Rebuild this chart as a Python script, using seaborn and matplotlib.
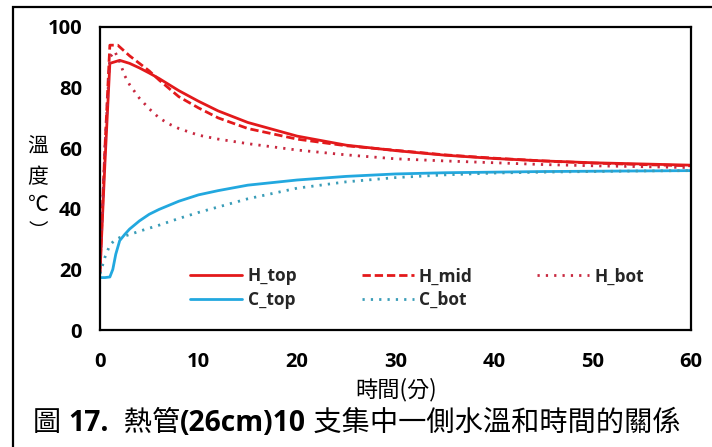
import matplotlib
matplotlib.use("Agg")
import matplotlib.pyplot as plt
import seaborn as sns
from matplotlib.lines import Line2D
from matplotlib.patches import Rectangle

# time (min) and temperatures
t_h_top = [0, 0.5, 1, 2, 3, 4, 5, 6, 8, 10, 12, 15, 20, 25, 30, 35, 40, 45, 50, 55, 60]
h_top = [19, 55, 88, 89, 88, 86.5, 84.8, 83, 79, 75.5, 72.3, 68.5, 64, 61, 59.2, 57.7, 56.6, 55.8, 55.2, 54.8, 54.4]

t_h_mid = [0, 0.5, 1, 1.8, 3, 4, 5, 6, 8, 10, 12, 15, 20, 25, 30, 35, 40, 45, 50, 55, 60]
h_mid = [20, 60, 94, 94, 90.5, 88, 85.5, 82.5, 77, 73.3, 70, 66.5, 63, 60.8, 59.3, 57.8, 56.7, 55.8, 55.1, 54.6, 54.2]

t_h_bot = [0, 0.5, 1, 1.5, 2, 2.5, 3, 4, 5, 6, 7, 8, 10, 12, 15, 20, 25, 30, 35, 40, 45, 50, 55, 60]
h_bot = [19, 60, 90, 92, 88.5, 84, 81, 76.5, 73, 70, 68, 66.5, 64.3, 63, 61.5, 59.4, 57.8, 56.5, 55.8, 55.2, 54.6, 54.2, 53.9, 53.6]

t_c_top = [0, 0.5, 1, 1.3, 1.6, 2, 2.5, 3, 4, 5, 6, 8, 10, 12, 15, 20, 25, 30, 35, 40, 45, 50, 55, 60]
c_top = [17.3, 17.3, 17.5, 20, 25, 29.5, 31.5, 33.3, 36, 38.2, 39.8, 42.5, 44.6, 46, 47.8, 49.5, 50.7, 51.5, 51.9, 52.1, 52.3, 52.4, 52.5, 52.6]

t_c_bot = [0, 0.5, 1, 1.5, 2, 3, 4, 5, 6, 8, 10, 12, 15, 20, 25, 30, 35, 40, 45, 50, 55, 60]
c_bot = [18.5, 24, 28, 29.7, 30.5, 31.5, 32.6, 33.6, 34.6, 36.8, 38.8, 40.6, 43.3, 46.8, 48.9, 50.3, 51.2, 51.8, 52.1, 52.3, 52.5, 52.6]

x_ticks = [0, 10, 20, 30, 40, 50, 60]
y_ticks = [0, 20, 40, 60, 80, 100]

sns.set_theme(style="white")
plt.rcParams["font.family"] = ["Open Sans", "Noto Sans CJK TC", "DejaVu Sans"]
cjk = ["Noto Sans CJK TC", "DejaVu Sans"]

W, H = 712, 447
fig = plt.figure(figsize=(W / 100, H / 100), dpi=100)
ax = fig.add_axes([100 / W, 1 - 330 / H, 591 / W, 303 / H])

red = "#E3191B"
red_dot = "#C8283F"
blue = "#22A8DF"
teal = "#3A9DB8"

dots = (0, (0.8, 2.2))
series = [
    (t_h_top, h_top, "H_top", red, "-", 2.0),
    (t_h_mid, h_mid, "H_mid", red, (0, (3, 1.4)), 2.0),
    (t_h_bot, h_bot, "H_bot", red_dot, dots, 2.0),
    (t_c_top, c_top, "C_top", blue, "-", 2.0),
    (t_c_bot, c_bot, "C_bot", teal, dots, 2.0),
]
handles = {}
for tx, vy, name, col, ls, lw in series:
    sns.lineplot(x=tx, y=vy, ax=ax, color=col, linestyle=ls, linewidth=lw)
    handles[name] = Line2D([], [], color=col, linestyle=ls, linewidth=lw)

ax.set_xlim(0, 60)
ax.set_ylim(0, 100)
ax.set_xticks(x_ticks)
ax.set_yticks(y_ticks)
ax.set_xlabel("")
ax.set_ylabel("")
for s in ax.spines.values():
    s.set_color("black")
    s.set_linewidth(1.6)
ax.tick_params(direction="in", length=5, width=1.6, color="black",
               labelsize=14.5, labelcolor="black")
ax.tick_params(axis="y", pad=13)
ax.tick_params(axis="x", pad=16)
for lab in ax.get_xticklabels() + ax.get_yticklabels():
    lab.set_fontweight("bold")

order = ["H_top", "C_top", "H_mid", "C_bot", "H_bot"]
leg = ax.legend([handles[k] for k in order], order, ncol=3, frameon=False,
                loc="upper left", bbox_to_anchor=(0.1265, 0.258),
                handlelength=3.0, columnspacing=3.7, handletextpad=0.3,
                labelspacing=0.3, prop={"weight": "bold", "size": 12.5})

# stacked y label
for ch, yp, fs in [("溫", 147, 15), ("度", 177, 15), ("℃", 205, 15), ("︶", 232, 14)]:
    fig.text(38 / W, 1 - yp / H, ch, family=cjk, fontsize=fs,
             ha="center", va="center", color="black")

fig.text(396 / W, 1 - 390 / H, "時間(分)", family=cjk, fontsize=16,
         ha="center", va="center", color="black")

# caption with mixed weights
pieces = [("圖 ", "normal"), ("17.", "bold"), ("  熱管", "normal"),
          ("(26cm)10", "bold"), (" 支集中一側水溫和時間的關係", "normal")]
renderer = fig.canvas.get_renderer()
xp = 33
for txt, wt in pieces:
    t = fig.text(xp / W, 1 - 431 / H, txt, family=["Open Sans", "Noto Sans CJK TC"],
                 fontsize=20.3, fontweight=wt, ha="left", va="baseline", color="black")
    xp = t.get_window_extent(renderer).x1

# outer frame, cut by the image edge
fig.patches.append(Rectangle((13 / W, -0.1), 1.1, (1 - 7 / H) + 0.1,
                             transform=fig.transFigure, fill=False,
                             edgecolor="black", linewidth=1.6))

fig.savefig("out.png", dpi=100)
